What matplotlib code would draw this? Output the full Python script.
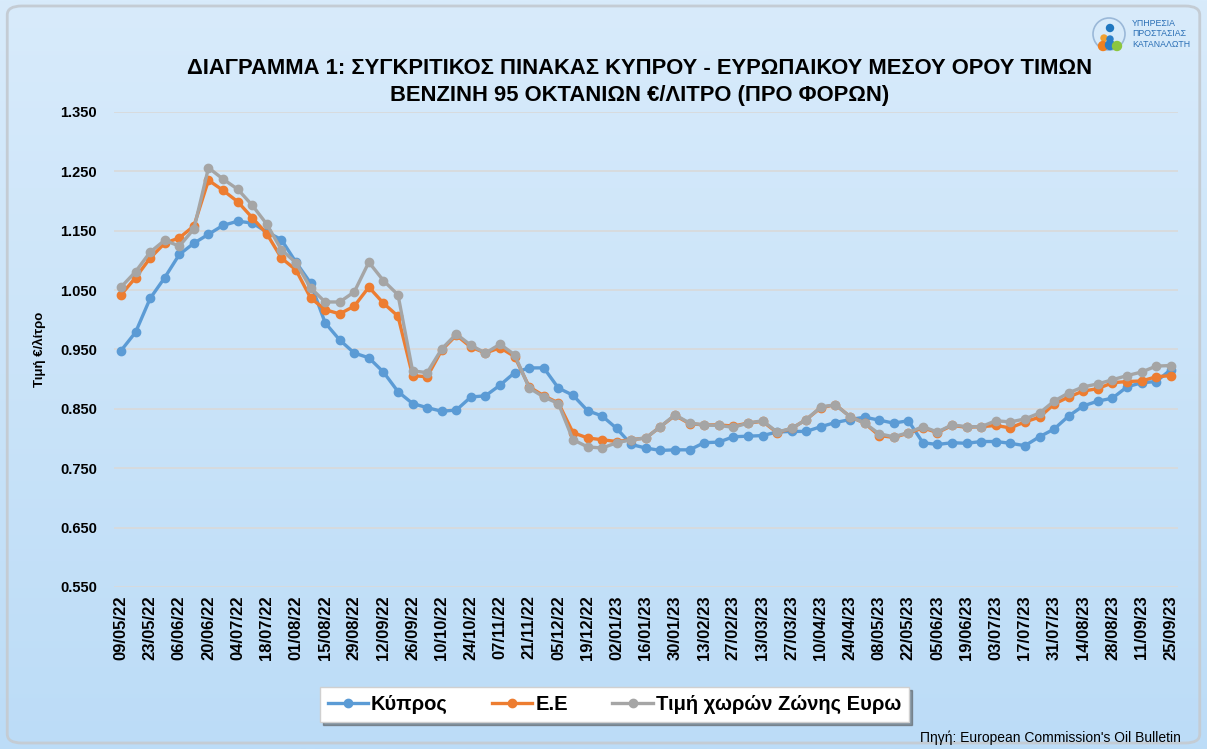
import numpy as np
import matplotlib
matplotlib.use("Agg")
import matplotlib.pyplot as plt
from matplotlib.patches import FancyBboxPatch, Ellipse

# weekly prices, euro/litre before taxes (09/05/22 .. 25/09/23)
cyprus = [0.948, 0.979, 1.036, 1.071, 1.110, 1.129, 1.144, 1.159, 1.166, 1.163,
          1.148, 1.135, 1.097, 1.062, 0.995, 0.966, 0.944, 0.936, 0.912, 0.879,
          0.859, 0.852, 0.846, 0.848, 0.870, 0.872, 0.890, 0.911, 0.919, 0.919,
          0.885, 0.873, 0.847, 0.838, 0.817, 0.790, 0.784, 0.780, 0.781, 0.781,
          0.793, 0.794, 0.803, 0.804, 0.805, 0.811, 0.812, 0.812, 0.820, 0.827,
          0.832, 0.836, 0.831, 0.826, 0.830, 0.793, 0.790, 0.793, 0.792, 0.795,
          0.795, 0.792, 0.788, 0.803, 0.816, 0.838, 0.855, 0.863, 0.868, 0.887,
          0.894, 0.896, 0.916]
eu = [1.042, 1.071, 1.104, 1.129, 1.138, 1.158, 1.235, 1.218, 1.199, 1.172,
      1.145, 1.104, 1.084, 1.037, 1.017, 1.010, 1.023, 1.055, 1.028, 1.006,
      0.906, 0.904, 0.949, 0.974, 0.954, 0.944, 0.953, 0.938, 0.887, 0.872,
      0.860, 0.810, 0.801, 0.798, 0.795, 0.798, 0.801, 0.820, 0.839, 0.825,
      0.823, 0.823, 0.821, 0.826, 0.829, 0.810, 0.817, 0.832, 0.852, 0.857,
      0.837, 0.826, 0.805, 0.802, 0.809, 0.818, 0.810, 0.822, 0.819, 0.820,
      0.822, 0.818, 0.828, 0.836, 0.858, 0.870, 0.880, 0.884, 0.894, 0.896,
      0.897, 0.904, 0.906]
eurozone = [1.055, 1.081, 1.114, 1.134, 1.124, 1.153, 1.256, 1.237, 1.220, 1.193,
            1.161, 1.118, 1.096, 1.054, 1.030, 1.030, 1.047, 1.097, 1.066, 1.042,
            0.914, 0.911, 0.951, 0.976, 0.957, 0.944, 0.959, 0.941, 0.885, 0.870,
            0.859, 0.798, 0.786, 0.784, 0.793, 0.798, 0.801, 0.820, 0.840, 0.826,
            0.823, 0.822, 0.819, 0.826, 0.830, 0.811, 0.817, 0.832, 0.853, 0.857,
            0.837, 0.826, 0.808, 0.803, 0.810, 0.820, 0.811, 0.823, 0.820, 0.820,
            0.830, 0.828, 0.833, 0.843, 0.863, 0.877, 0.887, 0.892, 0.899, 0.906,
            0.912, 0.922, 0.923]

tick_labels = ['09/05/22', '23/05/22', '06/06/22', '20/06/22', '04/07/22', '18/07/22',
               '01/08/22', '15/08/22', '29/08/22', '12/09/22', '26/09/22', '10/10/22',
               '24/10/22', '07/11/22', '21/11/22', '05/12/22', '19/12/22', '02/01/23',
               '16/01/23', '30/01/23', '13/02/23', '27/02/23', '13/03/23', '27/03/23',
               '10/04/23', '24/04/23', '08/05/23', '22/05/23', '05/06/23', '19/06/23',
               '03/07/23', '17/07/23', '31/07/23', '14/08/23', '28/08/23', '11/09/23',
               '25/09/23']
y_ticks = [0.55, 0.65, 0.75, 0.85, 0.95, 1.05, 1.15, 1.25, 1.35]

plt.rcParams['font.family'] = ['Liberation Sans', 'DejaVu Sans']

W, H = 1207, 749
fig = plt.figure(figsize=(W / 100, H / 100), dpi=100)

# background gradient
bg = fig.add_axes([0, 0, 1, 1], zorder=0)
grad = np.linspace(0, 1, 256).reshape(-1, 1)
bg.imshow(grad, aspect='auto', extent=[0, 1, 0, 1],
          cmap=matplotlib.colors.LinearSegmentedColormap.from_list('bgc', ['#d8ebfb', '#bcdcf7']),
          origin='upper')
bg.set_xlim(0, 1)
bg.set_ylim(0, 1)
bg.axis('off')
bg.add_patch(FancyBboxPatch((0.006, 0.008), 0.988, 0.984,
                            boxstyle='round,pad=0,rounding_size=0.012',
                            fc='none', ec='#c4ccd4', lw=2, transform=bg.transAxes))

ax = fig.add_axes([0.0942, 0.2163, 0.8818, 0.6342], zorder=1)
ax.patch.set_alpha(0)

x = np.arange(len(cyprus))
ax.plot(x, cyprus, color='#5B9BD5', lw=2.4, marker='o', ms=6, label='Κύπρος', zorder=3)
ax.plot(x, eu, color='#ED7D31', lw=2.4, marker='o', ms=6, label='Ε.Ε', zorder=4)
ax.plot(x, eurozone, color='#A5A5A5', lw=2.4, marker='o', ms=6,
        label='Τιμή χωρών Ζώνης Ευρω', zorder=5)

ax.set_xlim(-0.5, len(cyprus) - 0.5)
ax.set_ylim(0.55, 1.35)
ax.set_yticks(y_ticks)
ax.set_yticklabels(['%.3f' % v for v in y_ticks], fontsize=10.5, fontweight='bold')
ax.set_xticks(x[::2])
ax.set_xticklabels(tick_labels, rotation=90, fontsize=12, fontweight='bold')
ax.tick_params(axis='x', length=0, pad=6)
ax.tick_params(axis='y', length=0, pad=12)
ax.grid(axis='y', color='#d9d9d9', lw=1.2)
for s in ax.spines.values():
    s.set_visible(False)

ax.set_ylabel('Τιμή €/λίτρο', fontsize=9.5, fontweight='bold', labelpad=10)

fig.text(0.530, 0.909, 'ΔΙΑΓΡΑΜΜΑ 1: ΣΥΓΚΡΙΤΙΚΟΣ ΠΙΝΑΚΑΣ ΚΥΠΡΟΥ - ΕΥΡΩΠΑΙΚΟΥ ΜΕΣΟΥ ΟΡΟΥ ΤΙΜΩΝ',
         ha='center', va='center', fontsize=15.8, fontweight='bold')
fig.text(0.530, 0.873, 'ΒΕΝΖΙΝΗ 95 ΟΚΤΑΝΙΩΝ €/ΛΙΤΡΟ (ΠΡΟ ΦΟΡΩΝ)',
         ha='center', va='center', fontsize=15.8, fontweight='bold')

leg = fig.legend(loc='center', bbox_to_anchor=(0.509, 0.059), ncol=3,
                 prop={'size': 14.5, 'weight': 'bold'}, frameon=True, fancybox=False,
                 shadow=True, handlelength=2.0, handletextpad=0.15, columnspacing=2.2,
                 borderpad=0.4, borderaxespad=0)
leg.get_frame().set_edgecolor('#d0d0d0')
leg.get_frame().set_facecolor('white')

fig.text(0.978, 0.015, "Πηγή: European Commission's Oil Bulletin", ha='right', va='center',
         fontsize=10)


# logo, sizes given in pixels
def blob(px, py, d, **kw):
    bg.add_patch(Ellipse((px / W, 1 - py / H), d / W, d / H, transform=bg.transAxes, **kw))


blob(1109, 34, 32, fc='none', ec='#9ab8d8', lw=1.2)
blob(1110, 28, 7, color='#1f77c0')
blob(1104, 38, 6, color='#f0a030')
blob(1110, 39, 6, color='#2a7fc8')
blob(1103, 46, 9, color='#f08020')
blob(1110, 45, 9, color='#2a7fc8')
blob(1117, 46, 9, color='#8cc63f')
fig.text(1132 / W, 1 - 34 / H, 'ΥΠΗΡΕΣΙΑ\nΠΡΟΣΤΑΣΙΑΣ\nΚΑΤΑΝΑΛΩΤΗ', ha='left', va='center',
         fontsize=6.3, color='#2a6fb5', linespacing=1.2)

fig.savefig('out.png', dpi=100)
